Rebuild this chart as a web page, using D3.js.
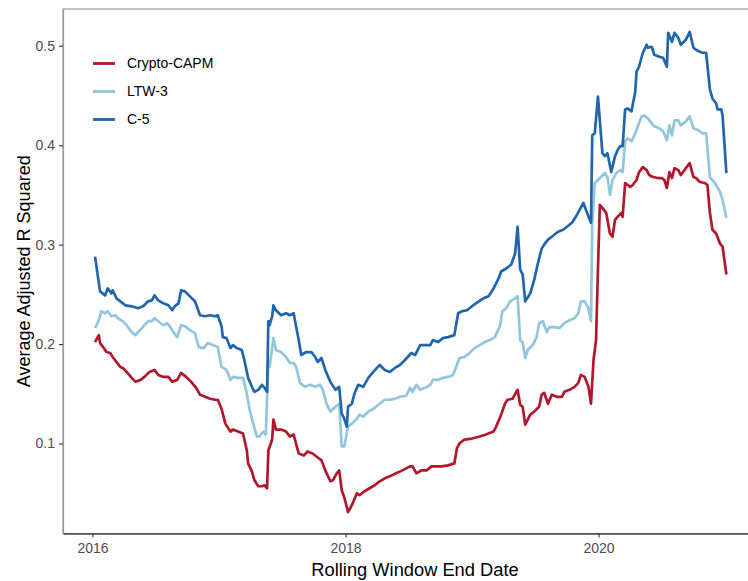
<!DOCTYPE html>
<html>
<head>
<meta charset="utf-8">
<script src="https://cdn.jsdelivr.net/npm/d3@7"></script>
<style>
  body { margin: 0; background: #fff; }
  svg text { font-family: "Liberation Sans", Arial, sans-serif; }
</style>
</head>
<body>
<div id="chart"></div>
<script>
// Series: [decimal year, average adjusted R squared]
const seriesNames = ['Crypto-CAPM', 'LTW-3', 'C-5'];
const seriesColors = ['#B2182B', '#92C5DE', '#2166AC'];
const xTicks = [2016, 2018, 2020];
const yTicks = [0.1, 0.2, 0.3, 0.4, 0.5];

const cryptoCapm = [
  [2016.02,0.202],[2016.05,0.209],[2016.06,0.201],[2016.09,0.196],[2016.11,0.192],[2016.14,0.191],
  [2016.16,0.187],[2016.19,0.182],[2016.22,0.177],[2016.24,0.176],[2016.27,0.172],[2016.31,0.166],
  [2016.34,0.162],[2016.38,0.164],[2016.41,0.167],[2016.45,0.172],[2016.49,0.174],[2016.52,0.169],
  [2016.56,0.167],[2016.60,0.167],[2016.63,0.162],[2016.67,0.164],[2016.70,0.171],[2016.74,0.167],
  [2016.78,0.162],[2016.82,0.156],[2016.85,0.149],[2016.89,0.147],[2016.93,0.145],[2016.97,0.144],
  [2016.99,0.144],[2017.02,0.135],[2017.05,0.120],[2017.09,0.112],[2017.11,0.114],[2017.15,0.112],
  [2017.19,0.110],[2017.22,0.093],[2017.23,0.080],[2017.26,0.072],[2017.28,0.063],[2017.31,0.057],
  [2017.34,0.057],[2017.36,0.058],[2017.38,0.055],[2017.39,0.093],[2017.42,0.104],[2017.43,0.124],
  [2017.45,0.114],[2017.49,0.114],[2017.53,0.112],[2017.56,0.107],[2017.59,0.109],[2017.60,0.104],
  [2017.63,0.090],[2017.67,0.088],[2017.70,0.092],[2017.74,0.090],[2017.77,0.087],[2017.81,0.083],
  [2017.84,0.073],[2017.88,0.062],[2017.90,0.063],[2017.93,0.070],[2017.95,0.073],[2017.97,0.053],
  [2017.99,0.046],[2018.02,0.031],[2018.05,0.038],[2018.09,0.050],[2018.11,0.048],[2018.15,0.052],
  [2018.19,0.055],[2018.23,0.058],[2018.27,0.062],[2018.31,0.065],[2018.35,0.067],[2018.40,0.070],
  [2018.45,0.073],[2018.51,0.077],[2018.53,0.077],[2018.56,0.070],[2018.60,0.073],[2018.64,0.073],
  [2018.68,0.077],[2018.72,0.077],[2018.76,0.077],[2018.81,0.078],[2018.86,0.080],[2018.88,0.095],
  [2018.90,0.100],[2018.94,0.104],[2019.00,0.105],[2019.06,0.107],[2019.11,0.109],[2019.17,0.112],
  [2019.19,0.117],[2019.23,0.129],[2019.26,0.140],[2019.28,0.144],[2019.32,0.145],[2019.35,0.152],
  [2019.36,0.154],[2019.38,0.139],[2019.40,0.137],[2019.42,0.119],[2019.46,0.129],[2019.49,0.132],
  [2019.53,0.137],[2019.55,0.149],[2019.57,0.151],[2019.60,0.140],[2019.63,0.149],[2019.67,0.147],
  [2019.71,0.147],[2019.73,0.152],[2019.77,0.154],[2019.81,0.157],[2019.84,0.161],[2019.86,0.169],
  [2019.89,0.167],[2019.92,0.157],[2019.94,0.140],[2019.96,0.184],[2019.98,0.204],[2019.995,0.275],
  [2020.01,0.340],[2020.03,0.337],[2020.06,0.332],[2020.09,0.311],[2020.11,0.308],[2020.13,0.325],
  [2020.15,0.328],[2020.18,0.332],[2020.19,0.328],[2020.21,0.362],[2020.25,0.358],[2020.27,0.360],
  [2020.30,0.365],[2020.32,0.373],[2020.35,0.378],[2020.38,0.375],[2020.40,0.370],[2020.43,0.368],
  [2020.47,0.367],[2020.50,0.367],[2020.52,0.365],[2020.54,0.357],[2020.56,0.373],[2020.58,0.367],
  [2020.60,0.377],[2020.63,0.375],[2020.65,0.370],[2020.69,0.377],[2020.72,0.382],[2020.75,0.368],
  [2020.77,0.367],[2020.80,0.363],[2020.84,0.362],[2020.86,0.360],[2020.88,0.332],[2020.90,0.315],
  [2020.93,0.311],[2020.96,0.301],[2020.98,0.298],[2021.01,0.270]
];

const ltw3 = [
  [2016.02,0.216],[2016.05,0.224],[2016.07,0.233],[2016.10,0.231],[2016.12,0.233],[2016.15,0.228],
  [2016.18,0.229],[2016.20,0.226],[2016.24,0.223],[2016.27,0.219],[2016.31,0.212],[2016.34,0.209],
  [2016.36,0.212],[2016.39,0.216],[2016.41,0.219],[2016.44,0.223],[2016.47,0.223],[2016.49,0.226],
  [2016.52,0.223],[2016.56,0.219],[2016.59,0.221],[2016.61,0.218],[2016.64,0.212],[2016.67,0.207],
  [2016.70,0.219],[2016.73,0.218],[2016.77,0.214],[2016.81,0.211],[2016.84,0.197],[2016.88,0.196],
  [2016.91,0.201],[2016.95,0.199],[2016.99,0.197],[2017.02,0.177],[2017.06,0.174],[2017.09,0.164],
  [2017.11,0.167],[2017.15,0.166],[2017.19,0.166],[2017.22,0.150],[2017.24,0.135],[2017.27,0.120],
  [2017.30,0.107],[2017.32,0.107],[2017.35,0.112],[2017.37,0.109],[2017.39,0.184],[2017.40,0.177],
  [2017.43,0.206],[2017.45,0.194],[2017.49,0.192],[2017.53,0.187],[2017.56,0.181],[2017.59,0.181],
  [2017.61,0.177],[2017.64,0.161],[2017.68,0.157],[2017.72,0.159],[2017.76,0.157],[2017.80,0.159],
  [2017.82,0.154],[2017.85,0.140],[2017.88,0.132],[2017.92,0.137],[2017.95,0.140],[2017.97,0.097],
  [2017.99,0.097],[2018.02,0.117],[2018.05,0.120],[2018.09,0.125],[2018.11,0.129],[2018.14,0.127],
  [2018.18,0.132],[2018.22,0.135],[2018.26,0.139],[2018.31,0.144],[2018.35,0.144],[2018.39,0.145],
  [2018.43,0.147],[2018.48,0.148],[2018.51,0.156],[2018.53,0.152],[2018.56,0.159],[2018.59,0.154],
  [2018.63,0.156],[2018.67,0.159],[2018.69,0.164],[2018.73,0.164],[2018.77,0.166],[2018.81,0.167],
  [2018.85,0.169],[2018.88,0.179],[2018.90,0.186],[2018.94,0.187],[2018.98,0.191],[2019.02,0.196],
  [2019.06,0.199],[2019.10,0.202],[2019.14,0.204],[2019.18,0.207],[2019.22,0.218],[2019.24,0.233],
  [2019.27,0.236],[2019.30,0.243],[2019.34,0.246],[2019.36,0.248],[2019.38,0.204],[2019.40,0.202],
  [2019.42,0.186],[2019.44,0.194],[2019.48,0.199],[2019.51,0.207],[2019.53,0.221],[2019.56,0.223],
  [2019.59,0.212],[2019.61,0.217],[2019.65,0.217],[2019.69,0.216],[2019.73,0.221],[2019.77,0.224],
  [2019.81,0.226],[2019.84,0.231],[2019.86,0.243],[2019.89,0.243],[2019.92,0.236],[2019.94,0.223],
  [2019.95,0.322],[2019.97,0.362],[2020.01,0.367],[2020.05,0.372],[2020.07,0.368],[2020.09,0.350],
  [2020.11,0.365],[2020.14,0.372],[2020.17,0.375],[2020.19,0.373],[2020.21,0.404],[2020.23,0.407],
  [2020.26,0.404],[2020.29,0.412],[2020.31,0.419],[2020.34,0.429],[2020.36,0.430],[2020.39,0.427],
  [2020.42,0.422],[2020.44,0.419],[2020.48,0.417],[2020.51,0.414],[2020.54,0.405],[2020.56,0.420],
  [2020.58,0.410],[2020.60,0.425],[2020.63,0.425],[2020.65,0.420],[2020.69,0.424],[2020.72,0.429],
  [2020.75,0.417],[2020.79,0.415],[2020.82,0.412],[2020.85,0.412],[2020.88,0.368],[2020.92,0.362],
  [2020.96,0.353],[2020.98,0.345],[2021.01,0.327]
];

const c5 = [
  [2016.02,0.288],[2016.06,0.253],[2016.10,0.249],[2016.12,0.256],[2016.15,0.251],[2016.16,0.254],
  [2016.19,0.246],[2016.22,0.243],[2016.26,0.239],[2016.31,0.238],[2016.36,0.236],[2016.40,0.238],
  [2016.44,0.243],[2016.47,0.244],[2016.49,0.249],[2016.52,0.244],[2016.56,0.241],[2016.60,0.239],
  [2016.63,0.234],[2016.65,0.238],[2016.68,0.241],[2016.70,0.254],[2016.73,0.253],[2016.77,0.248],
  [2016.81,0.243],[2016.85,0.229],[2016.89,0.228],[2016.93,0.229],[2016.97,0.228],[2016.99,0.229],
  [2017.02,0.218],[2017.03,0.207],[2017.06,0.206],[2017.09,0.196],[2017.11,0.199],[2017.14,0.196],
  [2017.18,0.194],[2017.20,0.184],[2017.23,0.166],[2017.26,0.157],[2017.28,0.152],[2017.31,0.154],
  [2017.34,0.159],[2017.36,0.156],[2017.38,0.152],[2017.39,0.223],[2017.40,0.219],[2017.42,0.228],
  [2017.43,0.239],[2017.45,0.234],[2017.49,0.229],[2017.53,0.231],[2017.56,0.229],[2017.59,0.231],
  [2017.60,0.224],[2017.63,0.204],[2017.65,0.189],[2017.69,0.192],[2017.73,0.192],[2017.76,0.187],
  [2017.78,0.182],[2017.81,0.186],[2017.84,0.174],[2017.88,0.162],[2017.92,0.154],[2017.95,0.157],
  [2017.97,0.130],[2017.99,0.125],[2018.01,0.117],[2018.02,0.137],[2018.05,0.140],[2018.07,0.150],
  [2018.10,0.159],[2018.14,0.157],[2018.18,0.166],[2018.22,0.172],[2018.27,0.179],[2018.31,0.174],
  [2018.35,0.172],[2018.39,0.176],[2018.43,0.179],[2018.47,0.184],[2018.52,0.191],[2018.55,0.189],
  [2018.59,0.199],[2018.63,0.199],[2018.67,0.199],[2018.69,0.204],[2018.73,0.202],[2018.77,0.206],
  [2018.81,0.207],[2018.86,0.209],[2018.89,0.231],[2018.92,0.233],[2018.96,0.234],[2019.00,0.238],
  [2019.03,0.241],[2019.09,0.246],[2019.13,0.248],[2019.17,0.256],[2019.21,0.266],[2019.23,0.273],
  [2019.27,0.276],[2019.31,0.280],[2019.34,0.291],[2019.36,0.318],[2019.38,0.275],[2019.40,0.270],
  [2019.42,0.243],[2019.46,0.251],[2019.49,0.264],[2019.52,0.281],[2019.55,0.296],[2019.57,0.300],
  [2019.60,0.305],[2019.63,0.308],[2019.65,0.310],[2019.68,0.313],[2019.72,0.315],[2019.75,0.318],
  [2019.79,0.322],[2019.82,0.328],[2019.85,0.335],[2019.88,0.342],[2019.90,0.335],[2019.93,0.325],
  [2019.94,0.322],[2019.95,0.410],[2019.97,0.412],[2019.995,0.449],[2020.01,0.425],[2020.03,0.392],
  [2020.05,0.389],[2020.07,0.392],[2020.10,0.373],[2020.13,0.389],[2020.15,0.395],[2020.17,0.399],
  [2020.19,0.399],[2020.21,0.436],[2020.23,0.437],[2020.26,0.434],[2020.29,0.454],[2020.30,0.474],
  [2020.32,0.479],[2020.35,0.493],[2020.38,0.501],[2020.39,0.498],[2020.42,0.499],[2020.44,0.491],
  [2020.48,0.489],[2020.51,0.488],[2020.54,0.479],[2020.55,0.513],[2020.58,0.504],[2020.60,0.513],
  [2020.63,0.508],[2020.65,0.501],[2020.69,0.506],[2020.72,0.514],[2020.75,0.498],[2020.77,0.496],
  [2020.80,0.494],[2020.82,0.493],[2020.85,0.493],[2020.88,0.456],[2020.90,0.447],[2020.93,0.442],
  [2020.94,0.436],[2020.97,0.436],[2020.98,0.430],[2021.01,0.372]
];

const seriesData = [cryptoCapm, ltw3, c5];

const width = 748;
const height = 581;
const margin = { top: 9, right: -10, bottom: 47.5, left: 63 };

const svg = d3.select('#chart')
  .append('svg')
  .attr('width', width)
  .attr('height', height);

const x = d3.scaleLinear()
  .domain([2015.767, 2021.26])
  .range([margin.left, width - margin.right]);

const y = d3.scaleLinear()
  .domain([0.0095, 0.537])
  .range([height - margin.bottom, margin.top]);

// panel border (right edge falls outside the picture)
svg.append('rect')
  .attr('x', margin.left)
  .attr('y', margin.top)
  .attr('width', width - margin.right - margin.left)
  .attr('height', height - margin.bottom - margin.top)
  .attr('fill', 'none')
  .attr('stroke', '#9a9a9a')
  .attr('stroke-width', 1.2);

// axes
const yAxis = svg.append('g')
  .attr('transform', `translate(${margin.left},0)`)
  .call(d3.axisLeft(y).tickValues(yTicks).tickSize(4).tickSizeOuter(0).tickPadding(4)
    .tickFormat(d3.format('.1f')));
yAxis.select('.domain').attr('stroke', '#9a9a9a').attr('stroke-width', 1.2);
yAxis.selectAll('.tick line').attr('stroke', '#333').attr('stroke-width', 1.1);
yAxis.selectAll('.tick text')
  .attr('fill', '#4d4d4d')
  .style('font-size', '14px');

const xAxis = svg.append('g')
  .attr('transform', `translate(0,${height - margin.bottom})`)
  .call(d3.axisBottom(x).tickValues(xTicks).tickSize(4).tickSizeOuter(0).tickPadding(6)
    .tickFormat(d3.format('d')));
xAxis.select('.domain').attr('stroke', '#444').attr('stroke-width', 1.3);
xAxis.selectAll('.tick line').attr('stroke', '#333').attr('stroke-width', 1.1);
xAxis.selectAll('.tick text')
  .attr('fill', '#4d4d4d')
  .style('font-size', '14px');

// axis titles
svg.append('text')
  .attr('x', 415)
  .attr('y', 576)
  .attr('text-anchor', 'middle')
  .style('font-size', '18.3px')
  .attr('fill', '#000')
  .text('Rolling Window End Date');

svg.append('text')
  .attr('transform', `translate(30,${(margin.top + height - margin.bottom) / 2}) rotate(-90)`)
  .attr('text-anchor', 'middle')
  .style('font-size', '18px')
  .attr('fill', '#000')
  .text('Average Adjusted R Squared');

// lines
const line = d3.line()
  .x(d => x(d[0]))
  .y(d => y(d[1]));

svg.append('g')
  .attr('class', 'series')
  .selectAll('path')
  .data(seriesData)
  .join('path')
    .attr('d', line)
    .attr('fill', 'none')
    .attr('stroke', (_, i) => seriesColors[i])
    .attr('stroke-width', 2.7)
    .attr('stroke-linejoin', 'round');

// legend
const legend = svg.append('g')
  .attr('class', 'legend')
  .selectAll('g')
  .data(seriesNames)
  .join('g')
    .attr('transform', (d, i) => `translate(93,${63.5 + i * 28})`);

legend.append('line')
  .attr('x1', 0)
  .attr('x2', 22)
  .attr('stroke', (_, i) => seriesColors[i])
  .attr('stroke-width', 2.8);

legend.append('text')
  .attr('x', 34)
  .attr('dy', '0.35em')
  .style('font-size', '14px')
  .attr('fill', '#000')
  .text(d => d);
</script>
</body>
</html>
